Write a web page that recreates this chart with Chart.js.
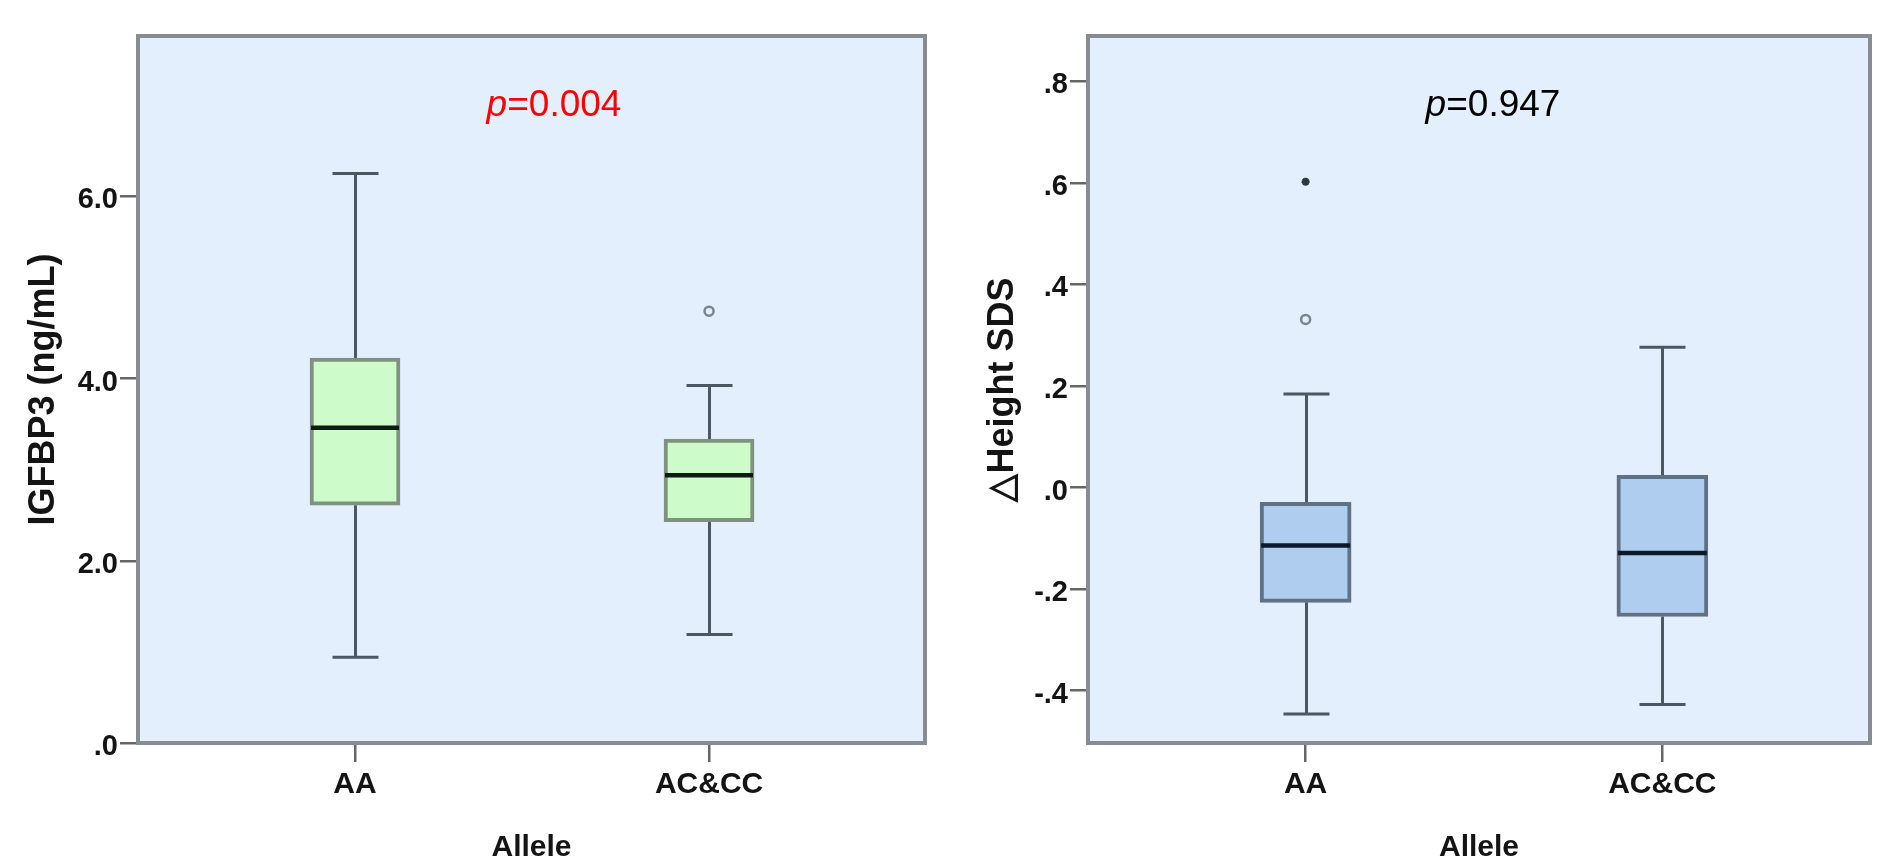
<!DOCTYPE html>
<html><head><meta charset="utf-8">
<script src="https://cdn.jsdelivr.net/npm/chart.js@4"></script>
<style>
html,body{margin:0;padding:0;background:#fff;}
#wrap{position:relative;width:1877px;height:860px;background:#fff;}
#c1{position:absolute;left:0;top:0;}
#c2{position:absolute;left:940px;top:0;}
</style></head><body>
<div id="wrap"><canvas id="c1" width="940" height="860"></canvas><canvas id="c2" width="937" height="860"></canvas></div>
<script>
// ---------- data ----------
const categories = ['AA', 'AC&CC'];

// Panel 1: IGFBP3 (ng/mL)
const igfMin    = [0.94, 1.19];
const igfQ1     = [2.61, 2.43];
const igfMedian = [3.46, 2.94];
const igfQ3     = [4.225, 3.335];
const igfMax    = [6.25, 3.925];
const igfOutlierCircles = [{cat: 1, value: 4.74}];
const igfOutlierStars   = [];
const igfTickValues = [0, 2, 4, 6];
const igfTickLabels = ['.0', '2.0', '4.0', '6.0'];
const igfP = '0.004';

// Panel 2: delta Height SDS
const htMin    = [-0.446, -0.427];
const htQ1     = [-0.226, -0.254];
const htMedian = [-0.114, -0.129];
const htQ3     = [-0.029, 0.024];
const htMax    = [0.184, 0.276];
const htOutlierCircles = [{cat: 0, value: 0.331}];
const htOutlierStars   = [{cat: 0, value: 0.602}];
const htTickValues = [-0.4, -0.2, 0, 0.2, 0.4, 0.6, 0.8];
const htTickLabels = ['-.4', '-.2', '.0', '.2', '.4', '.6', '.8'];
const htP = '0.947';

// ---------- drawing helpers ----------
const FONT = "'Liberation Sans', Arial, Helvetica, sans-serif";

const boxPlugin = {
  id: 'boxparts',
  beforeDraw(chart, args, o) {
    const {ctx, chartArea: a} = chart;
    ctx.save();
    ctx.fillStyle = o.plotBg;
    ctx.fillRect(a.left, a.top, a.right - a.left, a.bottom - a.top);
    ctx.restore();
  },
  beforeDatasetsDraw(chart, args, o) {
    const {ctx, scales: {x, y}} = chart;
    ctx.save();
    ctx.strokeStyle = o.whiskerColor;
    ctx.lineWidth = 3;
    const capHalf = o.capWidth / 2;
    categories.forEach((c, i) => {
      const px = Math.round(x.getPixelForValue(i)) + 0.5;
      const yMin = y.getPixelForValue(o.min[i]);
      const yQ1 = y.getPixelForValue(o.q1[i]);
      const yQ3 = y.getPixelForValue(o.q3[i]);
      const yMax = y.getPixelForValue(o.max[i]);
      ctx.beginPath();
      ctx.moveTo(px, yQ3); ctx.lineTo(px, yMax);
      ctx.moveTo(px, yQ1); ctx.lineTo(px, yMin);
      ctx.moveTo(px - capHalf, yMax); ctx.lineTo(px + capHalf, yMax);
      ctx.moveTo(px - capHalf, yMin); ctx.lineTo(px + capHalf, yMin);
      ctx.stroke();
    });
    ctx.restore();
  },
  afterDatasetsDraw(chart, args, o) {
    const {ctx, scales: {y}} = chart;
    const meta = chart.getDatasetMeta(0);
    ctx.save();
    ctx.strokeStyle = o.medianColor;
    ctx.lineWidth = 4.5;
    meta.data.forEach((bar, i) => {
      const py = y.getPixelForValue(o.median[i]);
      const half = bar.width / 2 - 1;
      ctx.beginPath();
      ctx.moveTo(bar.x - half, py);
      ctx.lineTo(bar.x + half, py);
      ctx.stroke();
    });
    ctx.restore();
  },
  afterDraw(chart, args, o) {
    const {ctx, chartArea: a} = chart;
    ctx.save();
    ctx.strokeStyle = o.frameColor;
    ctx.lineWidth = 4;
    ctx.strokeRect(a.left, a.top, a.right - a.left, a.bottom - a.top);
    // p-value annotation
    ctx.fillStyle = o.pColor;
    ctx.textBaseline = 'alphabetic';
    ctx.textAlign = 'left';
    const fItal = 'italic 37px ' + FONT;
    const fReg = '37px ' + FONT;
    ctx.font = fItal;
    const wp = ctx.measureText('p').width;
    ctx.font = fReg;
    const rest = '=' + o.pText;
    const wr = ctx.measureText(rest).width;
    const cx = a.left + o.pDx;
    const by = a.top + o.pDy;
    const x0 = cx - (wp + wr) / 2;
    ctx.font = fItal;
    ctx.fillText('p', x0, by);
    ctx.font = fReg;
    ctx.fillText(rest, x0 + wp, by);
    ctx.restore();
  }
};

function makeChart(canvas, cfg) {
  const boxData = categories.map((c, i) => ({x: i, y: [cfg.q1[i], cfg.q3[i]]}));
  const circles = cfg.circles.map(p => ({x: p.cat, y: p.value}));
  const stars = cfg.stars.map(p => ({x: p.cat, y: p.value}));
  return new Chart(canvas, {
    type: 'bar',
    data: {
      datasets: [
        {
          type: 'bar',
          data: boxData,
          backgroundColor: cfg.boxFill,
          borderColor: cfg.boxBorder,
          borderWidth: 4,
          borderSkipped: false,
          barThickness: cfg.boxWidth,
          grouped: false
        },
        {
          type: 'scatter',
          data: circles,
          pointStyle: 'circle',
          pointRadius: 4.5,
          pointBorderWidth: 2.5,
          pointBorderColor: '#7b858f',
          pointBackgroundColor: 'rgba(0,0,0,0)'
        },
        {
          type: 'scatter',
          data: stars,
          pointStyle: 'star',
          pointRadius: 4,
          pointBorderWidth: 2.5,
          pointBorderColor: '#2e3640',
          pointBackgroundColor: '#2e3640'
        }
      ]
    },
    options: {
      responsive: false,
      devicePixelRatio: 1,
      animation: false,
      events: [],
      layout: {padding: {top: 36, right: cfg.padRight, left: 0, bottom: 0}},
      plugins: {
        legend: {display: false},
        tooltip: {enabled: false},
        boxparts: {
          min: cfg.min, q1: cfg.q1, median: cfg.median, q3: cfg.q3, max: cfg.max,
          plotBg: '#e3effc', whiskerColor: '#4b5761', medianColor: cfg.medianColor,
          frameColor: '#878c92', capWidth: 46,
          pText: cfg.pText, pColor: cfg.pColor, pDx: cfg.pDx, pDy: 80
        }
      },
      scales: {
        x: {
          type: 'linear',
          offset: false,
          min: cfg.xMin, max: cfg.xMax,
          afterBuildTicks: s => { s.ticks = categories.map((c, i) => ({value: i})); },
          afterFit: s => { s.height = 117; },
          ticks: {
            callback: v => categories[v],
            font: {family: FONT, size: 30, weight: 'bold'},
            color: '#141414',
            padding: 5,
            autoSkip: false,
            maxRotation: 0
          },
          grid: {display: true, offset: false, drawOnChartArea: false, drawTicks: true, tickLength: 19, color: '#666', lineWidth: 2.5},
          border: {display: false},
          title: {display: true, text: 'Allele', font: {family: FONT, size: 30, weight: 'bold', lineHeight: 0.8}, color: '#141414', padding: {top: 0, bottom: 0}}
        },
        y: {
          type: 'linear',
          min: cfg.yMin, max: cfg.yMax,
          afterBuildTicks: s => { s.ticks = cfg.tickValues.map(v => ({value: v})); },
          afterFit: s => { s.width = cfg.yWidth; },
          ticks: {
            callback: (v, i) => cfg.tickLabels[i],
            font: {family: FONT, size: 29, weight: 'bold'},
            color: '#141414',
            padding: 2,
            labelOffset: 4,
            autoSkip: false
          },
          grid: {display: true, drawOnChartArea: false, drawTicks: true, tickLength: 18, color: '#666', lineWidth: 2.5},
          border: {display: false},
          title: {display: true, text: cfg.yTitle, font: {family: FONT, size: 36, weight: 'bold'}, color: '#141414', padding: {top: cfg.titlePad, bottom: 0}}
        }
      }
    },
    plugins: [boxPlugin]
  });
}

makeChart(document.getElementById('c1'), {
  min: igfMin, q1: igfQ1, median: igfMedian, q3: igfQ3, max: igfMax,
  circles: igfOutlierCircles, stars: igfOutlierStars,
  tickValues: igfTickValues, tickLabels: igfTickLabels,
  yMin: 0, yMax: 7.76, xMin: -0.613, xMax: 1.61,
  yWidth: 138, padRight: 15, titlePad: 22,
  yTitle: 'IGFBP3 (ng/mL)',
  boxFill: '#cdfbc9', boxBorder: '#7f927f', medianColor: '#0c1c0e', boxWidth: 90,
  pText: igfP, pColor: '#ff0000', pDx: 416
});

makeChart(document.getElementById('c2'), {
  min: htMin, q1: htQ1, median: htMedian, q3: htQ3, max: htMax,
  circles: htOutlierCircles, stars: htOutlierStars,
  tickValues: htTickValues, tickLabels: htTickLabels,
  yMin: -0.503, yMax: 0.889, xMin: -0.61, xMax: 1.582,
  yWidth: 148, padRight: 2, titlePad: 41,
  yTitle: '\u25B3Height SDS',
  boxFill: '#afcdee', boxBorder: '#5f7184', medianColor: '#0b1a2a', boxWidth: 91,
  pText: htP, pColor: '#000000', pDx: 405
});
</script>
</body></html>
